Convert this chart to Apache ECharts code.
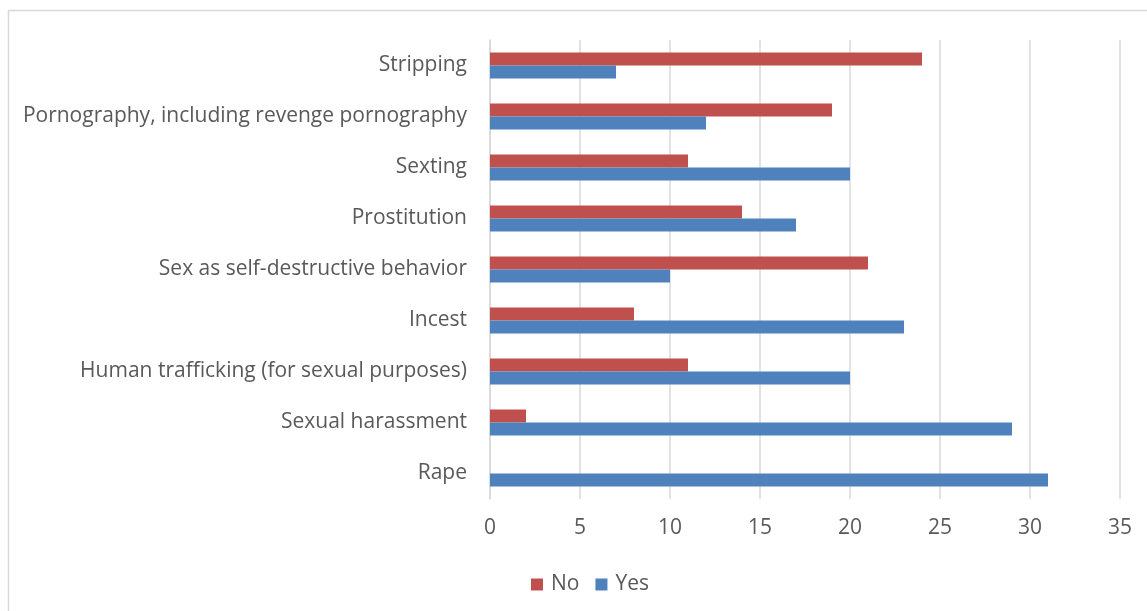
<!DOCTYPE html>
<html><head><meta charset="utf-8">
<script src="https://cdn.jsdelivr.net/npm/echarts@6/dist/echarts.min.js"></script>
<style>html,body{margin:0;padding:0;background:#fff}#c{width:1147px;height:611px}</style>
</head><body><div id="c"></div>
<script>
const categories = ["Rape","Sexual harassment","Human trafficking (for sexual purposes)","Incest","Sex as self-destructive behavior","Prostitution","Sexting","Pornography, including revenge pornography","Stripping"];
const noValues = [0,2,11,8,21,14,11,19,24];
const yesValues = [31,29,20,23,10,17,20,12,7];
const xTicks = [0,5,10,15,20,25,30,35];
const font = "'Open Sans', sans-serif";
const chart = echarts.init(document.getElementById('c'));
chart.setOption({
  animation:false,
  graphic:[{type:'rect',shape:{x:8.5,y:10.5,width:1160,height:620},style:{fill:'none',stroke:'#d9d9d9',lineWidth:1.5},silent:true}],
  grid:{left:490,top:40,right:27,bottom:112,containLabel:false},
  legend:{top:569,left:526,data:['No','Yes'],itemWidth:12,itemHeight:12,itemGap:16,icon:'rect',
    textStyle:{color:'#595959',fontSize:21,fontFamily:font,padding:[0,0,0,3]}},
  xAxis:{type:'value',min:0,max:35,interval:5,
    axisLine:{show:false},axisTick:{show:false},
    axisLabel:{color:'#595959',fontSize:21,fontFamily:font,margin:19,formatter:v=>String(v)},
    splitLine:{show:true,lineStyle:{color:'#d9d9d9',width:1.5}}},
  yAxis:{type:'category',data:categories,
    axisLine:{show:true,lineStyle:{color:'#d9d9d9',width:1.5}},axisTick:{show:false},
    axisLabel:{color:'#595959',fontSize:21,fontFamily:font,margin:23,padding:[3,0,0,0]}},
  series:[
    {name:'No',type:'bar',data:noValues,barWidth:13,barGap:'0%',itemStyle:{color:'#C0504D'}},
    {name:'Yes',type:'bar',data:yesValues,barWidth:13,barGap:'0%',itemStyle:{color:'#4F81BD'}}
  ]
});
</script></body></html>
